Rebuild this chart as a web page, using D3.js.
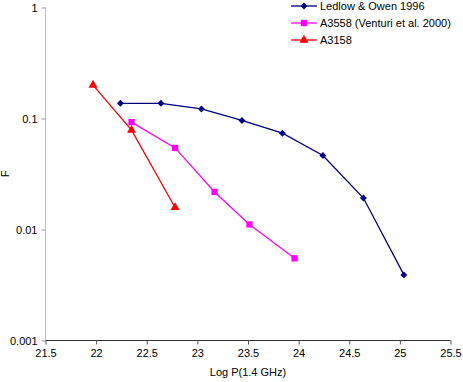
<!DOCTYPE html>
<html>
<head>
<meta charset="utf-8">
<script src="https://cdn.jsdelivr.net/npm/d3@7"></script>
<style>
  body { margin: 0; background: #fff; }
  text { font-family: "Liberation Sans", Arial, sans-serif; }
</style>
</head>
<body>
<div id="chart"></div>
<script>
// series data (log P, F)
const ledlowX = [22.24, 22.64, 23.04, 23.44, 23.84, 24.24, 24.64, 25.04]
const ledlowY = [0.137, 0.137, 0.122, 0.096, 0.0737, 0.0464, 0.0192, 0.0039]
const a3558X = [22.35, 22.78, 23.17, 23.515, 23.96]
const a3558Y = [0.0927, 0.0543, 0.0218, 0.0111, 0.0055]
const a3158X = [21.97, 22.35, 22.78]
const a3158Y = [0.2, 0.0785, 0.0158]
const seriesNames = ["Ledlow & Owen 1996", "A3558 (Venturi et al. 2000)", "A3158"]
const xTicks = [21.5, 22, 22.5, 23, 23.5, 24, 24.5, 25, 25.5]
const yTicks = [0.001, 0.01, 0.1, 1]

const width = 463, height = 382
const plot = { left: 45.5, right: 450.5, top: 7.5, bottom: 340.5 }

const svg = d3.select("#chart").append("svg")
  .attr("width", width)
  .attr("height", height)

const x = d3.scaleLinear().domain([21.5, 25.5]).range([plot.left, plot.right])
const y = d3.scaleLog().domain([0.001, 1]).range([plot.bottom, plot.top])

// y axis (gray)
const yAxis = svg.append("g")
  .attr("transform", `translate(${plot.left},0)`)
  .call(d3.axisLeft(y).tickValues(yTicks).tickSize(4).tickPadding(4)
    .tickFormat(d => String(d)))
yAxis.select(".domain").attr("stroke", "#bdbdbd").attr("d", `M0,${plot.top}V${plot.bottom}`)
yAxis.selectAll(".tick line").attr("stroke", "#9a9a9a")
yAxis.selectAll(".tick text").style("font-size", "11px").attr("fill", "#000")

// x axis (dark)
const xAxis = svg.append("g")
  .attr("transform", `translate(0,${plot.bottom})`)
  .call(d3.axisBottom(x).tickValues(xTicks).tickSize(4).tickPadding(5)
    .tickFormat(d => String(d)))
xAxis.select(".domain").attr("stroke", "#333").attr("d", `M${plot.left},0H${plot.right}`)
xAxis.selectAll(".tick line").attr("stroke", "#555")
xAxis.selectAll(".tick text").style("font-size", "11px").attr("fill", "#000")

svg.append("text")
  .attr("x", (plot.left + plot.right) / 2)
  .attr("y", 376)
  .attr("text-anchor", "middle")
  .style("font-size", "11px")
  .text("Log P(1.4 GHz)")

svg.append("text")
  .attr("transform", `translate(9,${(plot.top + plot.bottom) / 2}) rotate(-90)`)
  .attr("text-anchor", "middle")
  .style("font-size", "11px")
  .text("F")

// diamond = square turned 45 degrees
const series = [
  { name: seriesNames[0], xs: ledlowX, ys: ledlowY, color: "#000080", symbol: d3.symbolSquare, size: 24, rot: 45 },
  { name: seriesNames[1], xs: a3558X, ys: a3558Y, color: "#ff00ff", symbol: d3.symbolSquare, size: 40, rot: 0 },
  { name: seriesNames[2], xs: a3158X, ys: a3158Y, color: "#ff0000", symbol: d3.symbolTriangle, size: 36, rot: 0 }
]

const line = d3.line().x(d => x(d[0])).y(d => y(d[1]))

series.forEach(s => {
  const pts = s.xs.map((v, i) => [v, s.ys[i]])
  svg.append("path")
    .datum(pts)
    .attr("d", line)
    .attr("fill", "none")
    .attr("stroke", s.color)
    .attr("stroke-width", 1.3)
  svg.append("g").selectAll("path")
    .data(pts)
    .enter()
    .append("path")
    .attr("transform", d => `translate(${x(d[0])},${y(d[1])}) rotate(${s.rot})`)
    .attr("d", d3.symbol().type(s.symbol).size(s.size))
    .attr("fill", s.color)
})

// legend
const legend = svg.append("g").attr("transform", "translate(291,6)")
series.forEach((s, i) => {
  const g = legend.append("g").attr("transform", `translate(0,${i * 17})`)
  g.append("line").attr("x1", 0).attr("x2", 26).attr("stroke", s.color).attr("stroke-width", 1.3)
  g.append("path")
    .attr("transform", `translate(13,0) rotate(${s.rot})`)
    .attr("d", d3.symbol().type(s.symbol).size(s.size))
    .attr("fill", s.color)
  g.append("text")
    .attr("x", 29)
    .attr("dy", "0.35em")
    .style("font-size", "11px")
    .text(s.name)
})
</script>
</body>
</html>
